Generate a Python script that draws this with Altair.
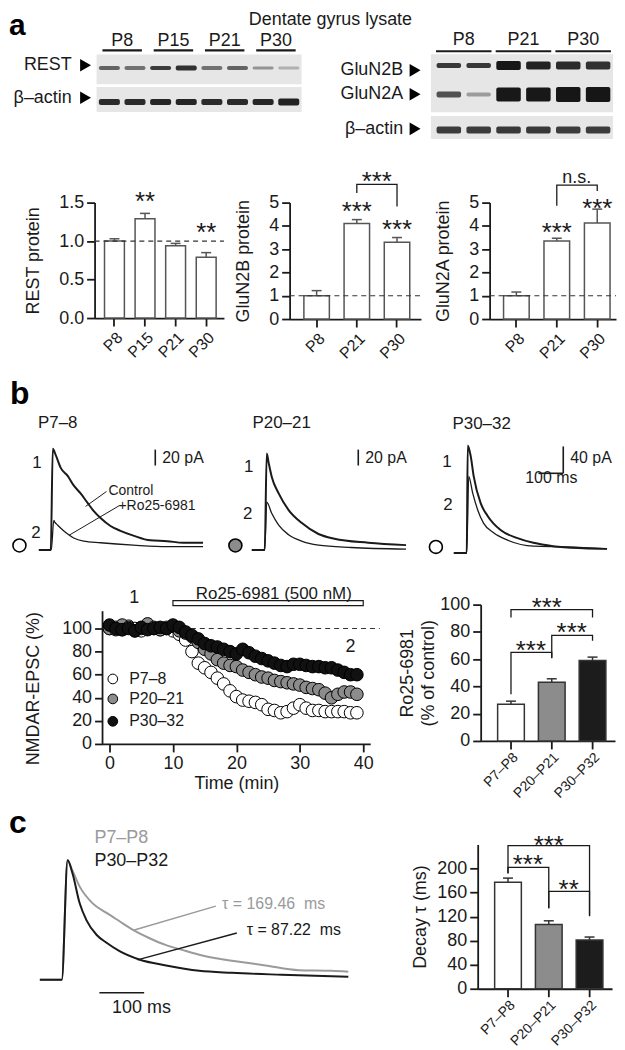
import altair as alt
import pandas as pd

FONT = "Liberation Sans"
INK = "#1a1a1a"
GRAY_TRACE = "#9a9a9a"

# ============================== DATA ==============================
# --- a: western blots: band darkness (0-1) and band thickness (px), one value per lane
rest_groups = ["P8", "P15", "P21", "P30"]
rest_band = [0.62, 0.55, 0.80, 0.85, 0.55, 0.62, 0.38, 0.25]
rest_band_px = [4, 4, 4, 5, 4, 4, 3, 3]
actin_l_band = [0.88, 0.88, 0.90, 0.90, 0.88, 0.88, 0.90, 0.92]
actin_l_band_px = [6, 6, 6, 6, 6, 6, 6, 7]
glun_groups = ["P8", "P21", "P30"]
n2b_band = [0.82, 0.82, 0.98, 0.92, 0.88, 0.85]
n2b_band_px = [5, 5, 9, 8, 8, 8]
n2a_band = [0.70, 0.35, 0.97, 0.97, 0.98, 0.98]
n2a_band_px = [6, 4, 14, 14, 15, 15]
actin_r_band = [0.80, 0.80, 0.82, 0.82, 0.80, 0.80]
actin_r_band_px = [7, 7, 7, 7, 7, 7]

# --- a: quantification (mean, s.e.m.)
rest_cats = ["P8", "P15", "P21", "P30"]
rest_mean = [1.00, 1.29, 0.94, 0.79]
rest_sem = [0.03, 0.07, 0.03, 0.06]
glun_cats = ["P8", "P21", "P30"]
n2b_mean = [1.00, 4.10, 3.30]
n2b_sem = [0.22, 0.17, 0.20]
n2a_mean = [1.00, 3.35, 4.12]
n2a_sem = [0.16, 0.12, 0.60]

# --- b: example NMDAR-EPSCs, time (ms) and amplitude (pA)
p7_ctrl_t = [0, 48, 56, 68, 88, 116, 140, 168, 196, 220, 248, 288, 328, 380, 448, 516, 580, 660]
p7_ctrl_i = [0, 0, 127, 119, 103, 93, 81, 71, 59, 49, 40, 30, 24, 18, 12, 11, 9, 9]
p7_drug_t = [0, 50, 60, 64, 76, 96, 116, 140, 180, 248, 380, 516, 660]
p7_drug_i = [0, 0, 37, 35, 31, 25, 20, 15, 11, 9, 6, 4, 4]
p20_ctrl_t = [0, 52, 60, 68, 80, 108, 148, 200, 268, 332, 468, 620]
p20_ctrl_i = [0, 0, 121, 109, 92, 71, 50, 34, 20, 14, 9, 6]
p20_drug_t = [0, 52, 60, 80, 108, 148, 200, 268, 400, 620]
p20_drug_i = [0, 0, 60, 46, 31, 19, 11, 6, 3, 1]
p30_ctrl_t = [0, 52, 56, 68, 80, 108, 136, 188, 256, 320, 400, 520, 616]
p30_ctrl_i = [0, 0, 160, 144, 114, 74, 55, 34, 22, 15, 10, 7, 6]
p30_drug_t = [0, 52, 60, 76, 96, 120, 160, 216, 320, 456, 616]
p30_drug_i = [0, 0, 114, 89, 64, 44, 30, 19, 10, 9, 6]

# --- b: time course (% of baseline)
tc_time = [0, 1, 2, 3, 4, 5, 6, 7, 8, 9, 10, 11, 12, 13, 14, 15, 16, 17, 18, 19,
           20, 21, 22, 23, 24, 25, 26, 27, 28, 29, 30, 31, 32, 33, 34, 35, 36, 37, 38, 39]
tc_p7 = [100, 101, 99, 102, 100, 98, 101, 100, 99, 101, 98,
         95, 90, 80, 70, 66, 62, 57, 52, 46, 41, 38, 37, 36, 34, 30, 29, 27, 28, 31,
         34, 31, 29, 29, 28, 28, 28, 28, 27, 27]
tc_p20 = [100, 99, 103, 101, 98, 100, 104, 101, 99, 100, 102,
          98, 96, 93, 88, 82, 78, 73, 70, 68, 67, 64, 62, 60, 58, 57, 55, 54, 53, 52,
          51, 49, 48, 47, 44, 40, 43, 45, 45, 43]
tc_p30 = [103, 100, 99, 100, 98, 101, 99, 100, 101, 100, 103,
          101, 97, 94, 91, 87, 85, 84, 82, 80, 78, 82, 79, 76, 74, 72, 70, 68, 67, 69,
          69, 68, 67, 67, 66, 66, 64, 62, 60, 60]

# --- b: Ro25-6981 effect (% of control)
age_cats = ["P7–P8", "P20–P21", "P30–P32"]
ro_mean = [27, 43, 59]
ro_sem = [2.2, 2.6, 2.5]

# --- c: normalised EPSCs, time (ms) and amplitude (peak = 1)
c_p7_t = [0, 49, 62, 71, 89, 118, 149, 178, 207, 244, 282, 318, 356, 393, 429, 504, 578, 651, 689]
c_p7_a = [0, 0, 1.0, 0.93, 0.78, 0.64, 0.56, 0.49, 0.42, 0.35, 0.29, 0.25, 0.21, 0.18, 0.16,
          0.12, 0.08, 0.075, 0.067]
c_p30_t = [0, 49, 62, 73, 89, 104, 127, 149, 178, 222, 282, 356, 429, 540, 689]
c_p30_a = [0, 0, 1.0, 0.89, 0.64, 0.5, 0.375, 0.31, 0.24, 0.17, 0.12, 0.075, 0.058, 0.042, 0.025]
decay_mean = [177, 107, 81]
decay_sem = [7, 6, 5]

# ============================== HELPERS ==============================
ONE = pd.DataFrame({"k": [0]})


def marker(L, T, W, R, H, B):
    # invisible rule that fixes the extent of a panel for the concat layout
    return alt.Chart(ONE).mark_rule(opacity=0, stroke="black").encode(
        x=alt.value(-L), x2=alt.value(W + R), y=alt.value(-T), y2=alt.value(H + B))


def spacer():
    return alt.Chart(ONE).mark_rule(opacity=0, stroke="black").encode(
        x=alt.value(0), x2=alt.value(1), y=alt.value(0), y2=alt.value(1)
    ).properties(width=1, height=1)


def text_layer(rows, X, Y, **style):
    df = pd.DataFrame(rows, columns=["txt", "px", "py"])
    st = dict(font=FONT, color=INK)
    st.update(style)
    return alt.Chart(df).mark_text(**st).encode(x=X("px"), y=Y("py"), text="txt:N")


def seg_layer(rows, X, Y, **style):
    df = pd.DataFrame(rows, columns=["x1", "y1", "x2", "y2"])
    st = dict(color=INK, strokeWidth=1.3)
    st.update(style)
    return alt.Chart(df).mark_rule(**st).encode(x=X("x1"), y=Y("y1"), x2="x2:Q", y2="y2:Q")


# ============================== ROW 1: blots ==============================
xL = alt.Scale(domain=[-0.5, 7.5], range=[89, 295], nice=False, zero=False)
yL = alt.Scale(domain=[0, 1], range=[57, 90], nice=False, zero=False)
xR = alt.Scale(domain=[-0.5, 5.5], range=[428, 608], nice=False, zero=False)
yR = alt.Scale(domain=[0, 2], range=[58, 118], nice=False, zero=False)


def XQ(sc):
    return lambda f: alt.X(f"{f}:Q", scale=sc, axis=None)


def YQ(sc):
    return lambda f: alt.Y(f"{f}:Q", scale=sc, axis=None)


def blot_layers(xs, ys, px_per_row, strips, band_rows, groups, glab_y, gline_y, gpad,
                row_labels, lab_x, arr_x):
    X, Y = XQ(xs), YQ(ys)
    out = []
    sdf = pd.DataFrame(strips, columns=["x1", "y1", "x2", "y2"])
    out.append(alt.Chart(sdf).mark_rect(color="#e6e6e6").encode(
        x=X("x1"), x2="x2:Q", y=Y("y1"), y2="y2:Q"))
    rows = []
    for centre, ints, pxs in band_rows:
        for lane, (a, p) in enumerate(zip(ints, pxs)):
            rows.append({"x1": lane - 0.41, "x2": lane + 0.41,
                         "y1": centre - p / 2 / px_per_row, "y2": centre + p / 2 / px_per_row, "a": a})
    out.append(alt.Chart(pd.DataFrame(rows)).mark_rect(color="#111111", cornerRadius=2).encode(
        x=X("x1"), x2="x2:Q", y=Y("y1"), y2="y2:Q", opacity=alt.Opacity("a:Q", scale=None)))
    out.append(text_layer([(g, 2 * i + 0.5, glab_y) for i, g in enumerate(groups)], X, Y,
                          fontSize=18, align="center", baseline="alphabetic"))
    out.append(seg_layer([(2 * i - gpad, gline_y, 2 * i + 1 + gpad, gline_y) for i in range(len(groups))],
                         X, Y, strokeWidth=2.2))
    out.append(text_layer([(t, lab_x, r) for t, r in row_labels], X, Y,
                          fontSize=18, align="right", baseline="middle"))
    adf = pd.DataFrame({"px": [arr_x] * len(row_labels), "py": [r for _, r in row_labels]})
    out.append(alt.Chart(adf).mark_point(shape="triangle-right", filled=True, size=160, color="black",
                                          opacity=1).encode(x=X("px"), y=Y("py")))
    return out


row1_layers = [marker(0, 0, 609, 0, 132, 0)]
row1_layers += blot_layers(
    xL, yL, 33,
    [(-0.5, -0.39, 7.5, 0.52), (-0.5, 0.6, 7.5, 1.36)],
    [(0.02, rest_band, rest_band_px), (1.06, actin_l_band, actin_l_band_px)],
    rest_groups, -0.64, -0.515, 0.27,
    [("REST", -0.06), ("β–actin", 0.93)], -1.47, -0.93)
row1_layers += blot_layers(
    xR, yR, 30,
    [(-0.6, -0.47, 5.5, 1.47), (-0.6, 1.6, 5.5, 2.37)],
    [(-0.09, n2b_band, n2b_band_px), (0.88, n2a_band, n2a_band_px), (2.07, actin_r_band, actin_r_band_px)],
    glun_groups, -0.77, -0.57, 0.43,
    [("GluN2B", 0.07), ("GluN2A", 0.87), ("β–actin", 2.03)], -1.53, -1.13)
row1_layers.append(alt.Chart(ONE).mark_text(font=FONT, fontSize=18, color=INK, align="center",
                                            baseline="alphabetic", text="Dentate gyrus lysate").encode(
    x=alt.value(324), y=alt.value(15)))
row1_layers.append(alt.Chart(ONE).mark_text(font=FONT, fontSize=30, fontWeight="bold", color="black",
                                            align="left", baseline="alphabetic", text="a").encode(
    x=alt.value(1), y=alt.value(25)))
row1 = alt.layer(*row1_layers).resolve_scale(x="independent", y="independent").properties(
    width=609, height=132)


# ============================== BAR PANELS ==============================
def bar_panel(cats, means, sems, fills, stroke, errc, xscale, ydom, yvals, yfmt, ytitle, tpad,
              geom, label_fs, dashed=None, stars=(), brackets=None, star_fs=26, texts=(),
              title_lh=None, label_pad=3):
    L, T, W, R, H, B = geom
    ys = alt.Scale(domain=ydom, nice=False, zero=True)
    xax = alt.Axis(title=None, labelAngle=-45, labelFontSize=label_fs, labelPadding=label_pad)
    ykw = dict(title=ytitle, values=yvals, titlePadding=tpad)
    if yfmt:
        ykw["format"] = yfmt
    if title_lh:
        ykw["titleLineHeight"] = title_lh
    yax = alt.Axis(**ykw)

    def X(f):
        return alt.X(f"{f}:N", scale=xscale, sort=cats, axis=xax)

    def Y(f):
        return alt.Y(f"{f}:Q", scale=ys, axis=yax)

    df = pd.DataFrame({"cat": cats, "v": means, "top": [m + s for m, s in zip(means, sems)], "fill": fills})
    layers = [
        marker(L, T, W, R, H, B),
        alt.Chart(df).mark_bar(stroke=stroke, strokeWidth=1.5).encode(
            x=X("cat"), y=Y("v"), fill=alt.Fill("fill:N", scale=None)),
        alt.Chart(df).mark_rule(color=errc, strokeWidth=1.5).encode(x=X("cat"), y=Y("v"), y2="top:Q"),
        alt.Chart(df).mark_tick(color=errc, thickness=1.5, size=10, opacity=1).encode(x=X("cat"), y=Y("top")),
    ]
    if dashed is not None:
        layers.append(alt.Chart(pd.DataFrame({"d": [dashed]})).mark_rule(
            strokeDash=[5, 4], color="#333333", strokeWidth=1.2).encode(
            y=Y("d"), x=alt.value(0), x2=alt.value(W)))
    if brackets:
        rows = []
        for bid, (bc, by) in brackets.items():
            for k, (c, v) in enumerate(zip(bc, by)):
                rows.append({"bid": bid, "cat": c, "by": v, "seq": k})
        layers.append(alt.Chart(pd.DataFrame(rows)).mark_line(color=INK, strokeWidth=1.3).encode(
            x=X("cat"), y=Y("by"), detail="bid:N", order="seq:Q"))
    for txt, cat, v, dx in stars:
        layers.append(alt.Chart(pd.DataFrame({"txt": [txt], "cat": [cat], "y": [v]})).mark_text(
            font=FONT, fontSize=star_fs, dx=dx, color=INK, baseline="alphabetic").encode(
            x=X("cat"), y=Y("y"), text="txt:N"))
    for txt, cat, v, dx, fs in texts:
        layers.append(alt.Chart(pd.DataFrame({"txt": [txt], "cat": [cat], "y": [v]})).mark_text(
            font=FONT, fontSize=fs, dx=dx, color=INK, baseline="alphabetic").encode(
            x=X("cat"), y=Y("y"), text="txt:N"))
    return alt.layer(*layers).properties(width=W, height=H)


rest_x = alt.Scale(domain=rest_cats, paddingInner=0.35, paddingOuter=0.29, align=0.56)
n2b_x = alt.Scale(domain=glun_cats, paddingInner=0.366, paddingOuter=0.317, align=0.56)
n2a_x = alt.Scale(domain=glun_cats, paddingInner=0.366, paddingOuter=0.246, align=0.7)
age_x = alt.Scale(domain=age_cats, paddingInner=0.345, paddingOuter=0.32, align=0.65)

rest_panel = bar_panel(rest_cats, rest_mean, rest_sem, ["white"] * 4, "#555555", "#555555", rest_x,
                       [0, 1.5], [0, 0.5, 1.0, 1.5], ".1f", "REST protein", 16,
                       (86, 61, 130, 10, 116, 41), 16, dashed=1.0,
                       stars=[("**", "P15", 1.40, 0), ("**", "P30", 1.0, 0)])
n2b_panel = bar_panel(glun_cats, n2b_mean, n2b_sem, ["white"] * 3, "#555555", "#555555", n2b_x,
                      [0, 5], [0, 1, 2, 3, 4, 5], None, "GluN2B protein", 16,
                      (55, 61, 132, 13, 117, 40), 16, dashed=1.0,
                      stars=[("***", "P21", 4.27, 0), ("***", "P30", 3.46, 0), ("***", "P21", 5.56, 20)],
                      brackets={"a": (["P21", "P21", "P30", "P30"], [5.41, 5.78, 5.78, 4.83])})
n2a_panel = bar_panel(glun_cats, n2a_mean, n2a_sem, ["white"] * 3, "#555555", "#555555", n2a_x,
                      [0, 5], [0, 1, 2, 3, 4, 5], None, "GluN2A protein", 16,
                      (55, 61, 127, 0, 117, 40), 16, dashed=1.0,
                      stars=[("***", "P21", 3.33, 0), ("***", "P30", 4.40, 0)],
                      brackets={"a": (["P21", "P21", "P30", "P30"], [4.87, 5.75, 5.75, 5.5])},
                      texts=[("n.s.", "P21", 5.85, 20, 18)])

ro_panel = bar_panel(age_cats, ro_mean, ro_sem, ["white", "#8c8c8c", "#1c1c1c"], "#333333", "#333333",
                     age_x, [0, 100], [0, 20, 40, 60, 80, 100], None, ["Ro25-6981", "(% of control)"], 2,
                     (80, 40, 135, 2, 137, 66), 14, title_lh=21, label_pad=1,
                     stars=[("***", "P7–P8", 59.9, 20), ("***", "P20–P21", 73, 20), ("***", "P20–P21", 92, -5)],
                     brackets={"a": (["P7–P8", "P7–P8", "P20–P21", "P20–P21"], [34.3, 65, 65, 60.6]),
                               "b": (["P20–P21", "P20–P21", "P30–P32", "P30–P32"], [61, 77.4, 77.4, 73.5]),
                               "c": (["P7–P8", "P7–P8", "P30–P32", "P30–P32"], [90.5, 96.4, 96.4, 90.5])})

decay_panel = bar_panel(age_cats, decay_mean, decay_sem, ["white", "#8c8c8c", "#1c1c1c"], "#333333",
                        "#333333", age_x, [0, 240], [0, 40, 80, 120, 160, 200], None, "Decay τ (ms)", 7,
                        (80, 36, 135, 2, 145, 56), 14, label_pad=1,
                        stars=[("***", "P7–P8", 191.7, 20), ("**", "P20–P21", 150.4, 20),
                               ("***", "P20–P21", 224.8, 0)],
                        brackets={"a": (["P7–P8", "P7–P8", "P20–P21", "P20–P21"], [191.7, 201.7, 201.7, 134]),
                                  "b": (["P20–P21", "P20–P21", "P30–P32", "P30–P32"], [134, 162, 162, 120.7]),
                                  "c": (["P7–P8", "P7–P8", "P30–P32", "P30–P32"], [192, 238, 238, 122])})


# ============================== TRACE PANELS ==============================
def trace_panel(traces, xdom, ydom, geom, texts, segs, circle=None):
    L, T, W, R, H, B = geom
    xs = alt.Scale(domain=xdom, nice=False, zero=False)
    ys = alt.Scale(domain=ydom, nice=False, zero=False)
    X, Y = XQ(xs), YQ(ys)
    layers = [marker(L, T, W, R, H, B)]
    for t, v, color, width in traces:
        layers.append(alt.Chart(pd.DataFrame({"px": t, "py": v})).mark_line(
            color=color, strokeWidth=width, interpolate="monotone").encode(x=X("px"), y=Y("py")))
    for rows, style in segs:
        layers.append(seg_layer(rows, X, Y, **style))
    for rows, style in texts:
        layers.append(text_layer(rows, X, Y, **style))
    if circle is not None:
        cx, cy, fill = circle
        layers.append(alt.Chart(pd.DataFrame({"px": [cx], "py": [cy]})).mark_point(
            shape="circle", filled=True, fill=fill, stroke="black", strokeWidth=1.6, size=170,
            opacity=1).encode(x=X("px"), y=Y("py")))
    return alt.layer(*layers).properties(width=W, height=H)


LBL = dict(fontSize=17, align="center", baseline="middle")
TTL = dict(fontSize=17, align="center", baseline="alphabetic")
SB = dict(fontSize=16, align="left", baseline="middle")

tr1 = trace_panel(
    [(p7_ctrl_t, p7_ctrl_i, INK, 2.0), (p7_drug_t, p7_drug_i, INK, 1.3)],
    [0, 680], [-15, 146.25], (29, 72, 170, 17, 129, 3),
    [([("b", -116, 183.75)], dict(fontSize=32, fontWeight="bold", align="left", baseline="alphabetic",
                                  color="black")),
     ([("P7–8", 76, 152.5)], TTL),
     ([("1", -8, 108.75), ("2", -12, 21)], LBL),
     ([("20 pA", 496, 116)], SB),
     ([("Control", 280, 73.75), ("+Ro25-6981", 320, 55)], dict(fontSize=14, align="left", baseline="middle"))],
    [([(468, 106, 468, 126)], dict(strokeWidth=1.6)),
     ([(188, 54.6, 272, 73.4), (121, 18.3, 325, 55.9)], dict(strokeWidth=1.0))],
    circle=(-78, 5.6, "white"))

tr2 = trace_panel(
    [(p20_ctrl_t, p20_ctrl_i, INK, 2.0), (p20_drug_t, p20_drug_i, INK, 1.3)],
    [0, 620], [-15, 146.25], (25, 72, 155, 20, 129, 3),
    [([("P20–21", 120, 152.5)], TTL),
     ([("1", -12, 104), ("2", -16, 45)], LBL),
     ([("20 pA", 456, 116)], SB)],
    [([(428, 106, 428, 126)], dict(strokeWidth=1.6))],
    circle=(-66, 5.6, "#8c8c8c"))

tr3 = trace_panel(
    [(p30_ctrl_t, p30_ctrl_i, INK, 2.0), (p30_drug_t, p30_drug_i, INK, 1.3)],
    [0, 640], [-13.3, 177.8], (28, 72, 160, 4, 129, 3),
    [([("P30–32", 112, 185.2)], TTL),
     ([("1", -28, 136), ("2", -24, 71)], LBL),
     ([("40 pA", 468, 140.7)], SB),
     ([("100 ms", 392, 103.7)], dict(fontSize=16, align="center", baseline="alphabetic"))],
    [([(440, 118.5, 440, 158.5), (340, 118.5, 440, 118.5)], dict(strokeWidth=1.6))],
    circle=(-72, 8.9, "white"))

trc = trace_panel(
    [(c_p7_t, c_p7_a, GRAY_TRACE, 2.0), (c_p30_t, c_p30_a, INK, 2.0)],
    [0, 689], [-0.1, 1.133], (31, 36, 310, 50, 148, 53),
    [([("c", -68.9, 1.225)], dict(fontSize=32, fontWeight="bold", align="left", baseline="alphabetic",
                                  color="black")),
     ([("P7–P8", 122, 1.142)], dict(fontSize=18, align="left", baseline="alphabetic", color=GRAY_TRACE)),
     ([("P30–P32", 122, 0.95)], dict(fontSize=18, align="left", baseline="alphabetic")),
     ([("τ = 169.46\u00a0 ms", 407, 0.592)], dict(fontSize=16, align="left", baseline="alphabetic",
                                                  color=GRAY_TRACE)),
     ([("τ = 87.22\u00a0 ms", 462, 0.375)], dict(fontSize=16, align="left", baseline="alphabetic")),
     ([("100 ms", 227, -0.275)], dict(fontSize=18, align="center", baseline="alphabetic"))],
    [([(211, 0.417, 393, 0.617)], dict(strokeWidth=1.4, color=GRAY_TRACE)),
     ([(218, 0.167, 440, 0.392)], dict(strokeWidth=1.4)),
     ([(133, -0.108, 233, -0.108)], dict(strokeWidth=1.6))])


# ============================== TIME COURSE ==============================
def timecourse_panel(geom):
    L, T, W, R, H, B = geom
    xs = alt.Scale(domain=[-1.1, 41.1], nice=False, zero=False)
    ys = alt.Scale(domain=[0, H / 1.16], nice=False, zero=False)
    xax = alt.Axis(title="Time (min)", values=[0, 10, 20, 30, 40], titlePadding=2)
    yax = alt.Axis(title="NMDAR-EPSC (%)", values=[0, 20, 40, 60, 80, 100], domain=False, titleY=84,
                   titlePadding=19)

    def X(f):
        return alt.X(f"{f}:Q", scale=xs, axis=xax)

    def Y(f):
        return alt.Y(f"{f}:Q", scale=ys, axis=yax)

    layers = [marker(L, T, W, R, H, B)]
    layers.append(alt.Chart(pd.DataFrame({"y1": [0], "y2": [115]})).mark_rule(
        color=INK, strokeWidth=1.8).encode(x=alt.value(0), y=Y("y1"), y2="y2:Q"))
    layers.append(alt.Chart(pd.DataFrame({"x1": [10], "x2": [42.6], "y": [100]})).mark_rule(
        color="#333333", strokeDash=[5, 4], strokeWidth=1.2).encode(x=X("x1"), x2="x2:Q", y=Y("y")))
    layers.append(alt.Chart(pd.DataFrame({"x1": [10], "x2": [40], "y1": [119.8], "y2": [124.1]})).mark_rect(
        fill="white", stroke=INK, strokeWidth=1.2).encode(x=X("x1"), x2="x2:Q", y=Y("y1"), y2="y2:Q"))
    for vals, fill in [(tc_p7, "white"), (tc_p20, "#8c8c8c"), (tc_p30, "#111111")]:
        layers.append(alt.Chart(pd.DataFrame({"t": tc_time, "v": vals})).mark_point(
            shape="circle", filled=True, fill=fill, stroke="black", strokeWidth=1.0, size=160,
            opacity=1).encode(x=X("t"), y=Y("v")))
    layers.append(alt.Chart(pd.DataFrame({"t": [0.52, 0.52, 0.52], "v": [56.3, 39, 19.6],
                                          "f": ["white", "#8c8c8c", "#111111"]})).mark_point(
        shape="circle", filled=True, stroke="black", strokeWidth=1.0, size=95, opacity=1).encode(
        x=X("t"), y=Y("v"), fill=alt.Fill("f:N", scale=None)))
    layers.append(text_layer([("P7–8", 3.1, 56.3), ("P20–21", 3.1, 39), ("P30–32", 3.1, 19.6)], X, Y,
                             fontSize=16, align="left", baseline="middle"))
    layers.append(text_layer([("Ro25-6981 (500 nM)", 25.9, 125.9)], X, Y,
                             fontSize=17, align="center", baseline="alphabetic"))
    layers.append(text_layer([("1", 3.9, 122.4), ("2", 38, 80)], X, Y,
                             fontSize=18, align="center", baseline="alphabetic"))
    return alt.layer(*layers).properties(width=W, height=H)


tc_panel = timecourse_panel((94, 40, 269, 28, 140, 63))

# ============================== ASSEMBLY ==============================
row2 = alt.hconcat(spacer(), rest_panel, n2b_panel, n2a_panel, spacing=0)
row3 = alt.hconcat(spacer(), tr1, tr2, tr3, spacing=0)
row4 = alt.hconcat(spacer(), tc_panel, ro_panel, spacing=0)
row5 = alt.hconcat(spacer(), trc, decay_panel, spacing=0)

chart = alt.vconcat(row1, row2, row3, row4, row5, spacing=0).properties(
    padding=0
).configure_view(stroke=None).configure_axis(
    labelFont=FONT, titleFont=FONT, labelColor=INK, titleColor=INK,
    domainColor=INK, tickColor=INK, domainWidth=1.8, tickWidth=1.8, tickSize=8,
    labelPadding=3, labelFontSize=18, titleFontSize=18, titleFontWeight="normal", grid=False
)

chart.save("out.html", embed_options={"renderer": "svg", "actions": False})
